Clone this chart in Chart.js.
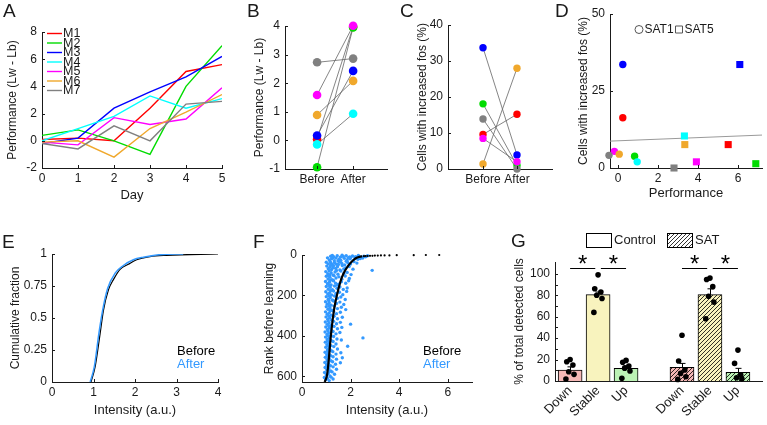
<!DOCTYPE html>
<html>
<head>
<meta charset="utf-8">
<title>Learning figure</title>
<script src="https://cdn.jsdelivr.net/npm/chart.js@4.4.1/dist/chart.umd.min.js"></script>
<style>
  html, body { margin: 0; padding: 0; background: #fff; }
  #fig { position: relative; width: 767px; height: 425px; overflow: hidden; }
  #fig canvas { position: absolute; left: 0; top: 0; }
</style>
</head>
<body>
<div id="fig">
  <canvas id="chartA" width="767" height="425"></canvas>
  <canvas id="chartB" width="767" height="425"></canvas>
  <canvas id="chartC" width="767" height="425"></canvas>
  <canvas id="chartD" width="767" height="425"></canvas>
  <canvas id="chartE" width="767" height="425"></canvas>
  <canvas id="chartF" width="767" height="425"></canvas>
  <canvas id="chartG" width="767" height="425"></canvas>
</div>
<script>
// ---------- data ----------
const mice = ['M1', 'M2', 'M3', 'M4', 'M5', 'M6', 'M7'];
const mouseColors = ['#ff0000', '#00dc00', '#0000ff', '#00ffff', '#ff00ff', '#f0a82c', '#808080'];

// A: performance per day
const days = [0, 1, 2, 3, 4, 5];
const perfM1 = [0.1, 0.2, 0.0, 2.4, 5.1, 5.6];
const perfM2 = [0.4, 0.8, 0.0, -1.0, 4.0, 7.0];
const perfM3 = [-0.2, 0.2, 2.4, 3.6, 4.7, 6.2];
const perfM4 = [0.0, 0.9, 1.8, 3.3, 2.4, 3.1];
const perfM5 = [-0.1, -0.3, 1.7, 1.2, 1.6, 3.9];
const perfM6 = [-0.1, 0.0, -1.2, 0.9, 2.1, 3.4];
const perfM7 = [-0.2, -0.6, 1.1, 0.0, 2.7, 2.9];
const perfByMouse = [perfM1, perfM2, perfM3, perfM4, perfM5, perfM6, perfM7];
const dayTicks = [0, 1, 2, 3, 4, 5];
const perfTicksA = [-2, 0, 2, 4, 6, 8];

// B: performance before / after
const phases = ['Before', 'After'];
const perfBefore = [0.04, -0.94, 0.17, -0.14, 1.59, 0.89, 2.73];
const perfAfter = [3.97, 3.95, 2.43, 0.93, 4.01, 2.08, 2.86];
const perfTicksB = [-1, 0, 1, 2, 3, 4];

// C: cells with increased fos (%)
const fosBefore = [9.6, 18.1, 33.7, null, 8.5, 1.4, 13.9];
const fosAfter = [15.2, 1.0, 3.9, null, 2.0, 28.0, 0.0];
const fosTicksC = [0, 10, 20, 30, 40];

// D: fos vs performance
const sat1Perf = [0.24, 0.83, 0.24, 0.96, -0.18, 0.06, -0.45];
const sat1Fos = [16.3, 3.8, 33.6, 2.0, 5.4, 4.5, 4.1];
const sat5Perf = [5.51, 6.89, 6.09, 3.32, 3.92, 3.34, 2.8];
const sat5Fos = [7.6, 1.4, 33.6, 10.4, 2.0, 7.6, 0.0];
const perfTicksD = [0, 2, 4, 6];
const fosTicksD = [0, 25, 50];

// E: cumulative fraction of intensity
const seriesNames = ['Before', 'After'];
const seriesColors = ['#000000', '#3399ff'];
const cumBefore = [[0.94, 0], [1.04, 0.12], [1.16, 0.38], [1.24, 0.56], [1.36, 0.72], [1.48, 0.8],
  [1.64, 0.88], [1.84, 0.92], [2.04, 0.955], [2.36, 0.98], [2.76, 0.99], [4.0, 1.0]];
const cumAfter = [[0.92, 0], [1.02, 0.12], [1.13, 0.38], [1.22, 0.56], [1.34, 0.73], [1.52, 0.85],
  [1.72, 0.91], [1.96, 0.955], [2.2, 0.975], [2.6, 0.995], [3.16, 1.0]];
const intTicksE = [0, 1, 2, 3, 4];
const cumTicks = [0, 0.25, 0.5, 0.75, 1];

// F: intensity after learning at each rank before learning  [intensity, rank]
const rankAfter = [
  [1.18,6],[1.3,9],[1.45,4],[1.58,11],[1.7,7],[1.82,3],[1.96,10],[2.08,5],[2.2,8],[2.32,2],[2.42,11],[2.55,6],[2.62,9],[2.7,4],[1.25,2],[1.65,1],[2.0,12],[2.25,12],
  [1.05,14],[1.12,24],[1.22,18],[1.33,28],[1.4,15],[1.52,22],[1.6,27],[1.74,16],[1.86,25],[1.98,19],[2.1,29],[2.18,14],[2.3,21],[2.4,17],[1.28,13],[1.9,13],[1.48,30],[2.5,15],
  [1.0,36],[1.08,44],[1.16,32],[1.24,48],[1.34,38],[1.42,46],[1.55,34],[1.64,42],[1.76,49],[1.88,37],[2.0,45],[2.14,33],[2.26,40],[1.2,41],[1.5,47],[1.82,31],
  [1.02,55],[1.08,68],[1.14,61],[1.22,72],[1.3,53],[1.38,66],[1.46,58],[1.56,74],[1.66,52],[1.8,64],[1.94,57],[2.1,70],[1.18,52],[1.27,63],[1.72,69],
  [0.98,82],[1.06,93],[1.12,78],[1.2,88],[1.28,99],[1.36,84],[1.48,95],[1.6,79],[1.72,91],[1.86,86],[2.02,97],[2.89,76],[1.15,98],[1.42,77],
  [1.0,105],[1.07,119],[1.15,110],[1.23,122],[1.32,102],[1.4,114],[1.52,108],[1.64,120],[1.78,104],[1.95,116],[1.1,101],[1.28,124],
  [0.97,131],[1.05,142],[1.13,135],[1.2,148],[1.3,128],[1.38,139],[1.5,145],[1.62,132],[1.8,140],[1.92,127],[1.16,126],[1.44,149],
  [1.0,156],[1.08,169],[1.16,160],[1.25,172],[1.34,153],[1.44,165],[1.56,158],[1.7,170],[1.86,163],[1.12,151],
  [0.98,182],[1.06,193],[1.14,186],[1.22,198],[1.3,178],[1.4,190],[1.54,184],[1.68,196],[1.84,180],[1.18,176],
  [1.0,206],[1.08,219],[1.16,210],[1.24,222],[1.34,203],[1.46,214],[1.6,208],[1.78,220],[1.12,201],[1.28,225],
  [0.97,231],[1.04,243],[1.12,236],[1.2,248],[1.3,228],[1.42,240],[1.56,233],[1.72,245],[1.1,226],
  [1.0,256],[1.07,268],[1.15,261],[1.23,273],[1.33,253],[1.46,265],[1.62,258],[1.8,270],[1.12,251],
  [0.97,281],[1.04,293],[1.12,286],[1.2,298],[1.3,278],[1.42,290],[1.58,283],[1.16,276],
  [0.99,306],[1.06,318],[1.14,311],[1.22,323],[1.32,303],[1.46,315],[1.66,308],[1.1,301],
  [0.96,331],[1.04,343],[1.12,336],[1.2,348],[1.3,328],[1.42,340],[1.58,333],[2.0,342],[1.08,326],
  [0.98,356],[1.05,368],[1.13,361],[1.21,373],[1.32,353],[1.46,365],[1.64,358],[1.1,351],
  [0.95,381],[1.03,393],[1.11,386],[1.19,398],[1.28,378],[1.4,390],[1.56,383],[1.07,376],
  [0.97,406],[1.04,418],[1.12,411],[1.2,423],[1.3,403],[1.44,415],[1.62,420],[2.51,410],[1.08,401],
  [0.96,431],[1.03,443],[1.11,436],[1.19,448],[1.28,428],[1.4,440],[1.88,451],[1.06,426],
  [0.98,456],[1.05,468],[1.13,461],[1.21,473],[1.31,453],[1.46,465],[1.1,451],
  [0.95,481],[1.02,493],[1.1,486],[1.18,498],[1.27,478],[1.4,490],[1.6,483],[1.06,476],
  [0.96,506],[1.03,518],[1.11,511],[1.19,523],[1.28,503],[1.42,515],[1.66,508],[1.07,501],
  [0.94,531],[1.01,543],[1.09,536],[1.17,548],[1.26,528],[1.38,540],[1.58,533],[1.05,526],
  [0.95,556],[1.02,568],[1.1,561],[1.18,573],[1.28,553],[1.42,565],[1.06,551],
  [0.93,581],[1.0,593],[1.08,586],[1.15,598],[1.24,578],[1.34,590],[1.12,576],
  [0.92,606],[0.98,616],[1.05,611],[1.12,621],[1.2,604],[1.28,613]
];
const rankBeforeCurve = [[2.48,7],[2.4,8],[2.25,14],[2.12,25],[1.92,50],[1.71,91],[1.58,132],[1.44,198],
  [1.32,270],[1.19,397],[1.1,521],[1.03,595],[0.98,615],[0.93,628]];
const rankBeforeTop = [[2.55,6],[2.62,5],[2.7,5],[2.8,4],[2.9,4],[3.0,3],[3.12,3],[3.25,2],[3.4,2],
  [3.6,2],[3.9,1],[4.6,1],[5.1,0],[5.65,0]];
const intTicksF = [0, 2, 4, 6];
const rankTicks = [0, 200, 400, 600];

// G: % of total detected cells
const gGroups = ['Control', 'SAT'];
const gCats = ['Down', 'Stable', 'Up'];
const gCatColors = ['#f5b8b6', '#f8f3be', '#bcf2b5'];
const gCtrlMean = [10.2, 80.5, 11.8];
const gSatMean = [12.7, 80.5, 8.0];
const gCtrlSem = [3.0, 2.5, 2.5];
const gSatSem = [3.7, 5.5, 3.8];
const gCtrlDots = [[20.1, 17.9, 14.9, 8.6, 6.2, 1.9], [99, 86, 83, 80, 77, 64], [19.2, 17.4, 13.9, 12, 9.3, 2.5]];
const gSatDots = [[42.7, 18.6, 10.2, 7.1, 4, 1.5], [96, 94.7, 88, 79, 73.6, 58], [28.8, 16.4, 5.6, 3.1, 2]];
const pctTicks = [0, 10, 20, 30, 40, 50, 60, 70, 80, 90, 100];

// ---------- helpers ----------
const FONT = "'Liberation Sans', Arial, Helvetica, sans-serif";
const INK = '#1a1a1a';
const W = 767, H = 425;
const Y_TITLE = 12, X_TITLE = 13, TICK = 12;

// plot box in page pixels + centre of the axis titles
function frame(L, T, R, B, yTitleX, xTitleY) {
  return { L, T, R, B, yw: L - yTitleX + 0.6 * Y_TITLE, xh: xTitleY - B + 0.6 * X_TITLE };
}

function axis(pos, min, max, values, title, f, more = {}) {
  const horiz = pos === 'bottom';
  const a = {
    type: 'linear', position: pos, min: min, max: max, offset: false,
    afterBuildTicks: s => { s.ticks = values.map(v => ({ value: v })); },
    afterFit: s => { if (horiz) s.height = f.xh; else s.width = f.yw; },
    grid: { display: false, drawTicks: false, offset: false },
    border: { color: INK, width: 1 },
    ticks: { color: INK, font: { family: FONT, size: TICK }, padding: horiz ? 3 : 5,
             maxRotation: 0, minRotation: 0, autoSkip: false, callback: v => String(v) },
    title: { display: !!title, text: title, color: INK, padding: 0,
             font: { family: FONT, size: horiz ? X_TITLE : Y_TITLE } }
  };
  const { ticks, ...rest } = more;
  Object.assign(a.ticks, ticks || {});
  return Object.assign(a, rest);
}

function options(f, scales, plugins) {
  return {
    responsive: false, animation: false, events: [],
    layout: { padding: { left: f.L - f.yw, top: f.T, right: W - f.R, bottom: H - f.B - f.xh } },
    scales: scales,
    plugins: Object.assign({ legend: { display: false }, tooltip: { enabled: false } }, plugins)
  };
}

const letter = (t, x, y) => ({ text: t, x: x, y: y, size: 19 });

// small inward tick marks (MATLAB style)
const inTicks = {
  id: 'inTicks',
  afterDatasetsDraw(chart, args, o) {
    const { ctx, chartArea: a } = chart;
    ctx.save();
    ctx.strokeStyle = INK; ctx.lineWidth = 1;
    ctx.beginPath();
    if (o.x !== false) chart.scales.x.ticks.forEach(t => {
      const p = Math.round(chart.scales.x.getPixelForValue(t.value)) + 0.5;
      ctx.moveTo(p, a.bottom); ctx.lineTo(p, a.bottom - 3);
    });
    if (o.y !== false) chart.scales.y.ticks.forEach(t => {
      const p = Math.round(chart.scales.y.getPixelForValue(t.value)) + 0.5;
      ctx.moveTo(a.left, p); ctx.lineTo(a.left + 3, p);
    });
    ctx.stroke();
    ctx.restore();
  }
};

// free text (panel letters)
const notes = {
  id: 'notes',
  afterDraw(chart, args, o) {
    const ctx = chart.ctx;
    (o.items || []).forEach(n => {
      ctx.save();
      ctx.font = (n.bold ? 'bold ' : '') + (n.size || 13) + 'px ' + FONT;
      ctx.fillStyle = n.color || INK;
      ctx.textAlign = n.align || 'left';
      ctx.textBaseline = 'middle';
      ctx.fillText(n.text, n.x, n.y);
      ctx.restore();
    });
  }
};

// line + name legend for panel A
const lineLegend = {
  id: 'lineLegend',
  afterDraw(chart, args, o) {
    const ctx = chart.ctx;
    ctx.save();
    ctx.font = o.size + 'px ' + FONT;
    ctx.textBaseline = 'middle';
    chart.data.datasets.forEach((d, i) => {
      const y = o.y + i * o.step;
      ctx.strokeStyle = d.borderColor; ctx.lineWidth = 1.4;
      ctx.beginPath(); ctx.moveTo(o.x, y); ctx.lineTo(o.x + o.len, y); ctx.stroke();
      ctx.fillStyle = INK;
      ctx.fillText(d.label, o.x + o.len + 1, y + 0.5);
    });
    ctx.restore();
  }
};

// coloured words legend (Before / After)
const wordLegend = {
  id: 'wordLegend',
  afterDraw(chart, args, o) {
    const ctx = chart.ctx;
    ctx.save();
    ctx.font = o.size + 'px ' + FONT;
    ctx.textBaseline = 'middle';
    seriesNames.forEach((s, i) => {
      ctx.fillStyle = seriesColors[i];
      ctx.fillText(s, o.x, o.y + i * o.step);
    });
    ctx.restore();
  }
};

// hollow marker legend for panel D
const markerLegend = {
  id: 'markerLegend',
  afterDraw(chart, args, o) {
    const ctx = chart.ctx;
    ctx.save();
    ctx.font = o.size + 'px ' + FONT;
    ctx.textBaseline = 'middle';
    ctx.strokeStyle = '#555'; ctx.lineWidth = 1; ctx.fillStyle = INK;
    let x = o.x;
    chart.data.datasets.filter(d => d.legendMark).forEach(d => {
      ctx.beginPath();
      if (d.pointStyle === 'rect') ctx.rect(x - 3.5, o.y - 3.5, 7, 7);
      else ctx.arc(x, o.y, 4, 0, Math.PI * 2);
      ctx.stroke();
      ctx.fillText(d.label, x + 5.5, o.y + 0.5);
      x += o.gap;
    });
    ctx.restore();
  }
};

function hatch(color) {
  const c = document.createElement('canvas');
  c.width = 4; c.height = 4;
  const g = c.getContext('2d');
  g.fillStyle = color; g.fillRect(0, 0, 4, 4);
  g.strokeStyle = '#000'; g.lineWidth = 0.8;
  g.beginPath();
  g.moveTo(0, 4); g.lineTo(4, 0);
  g.moveTo(-1, 1); g.lineTo(1, -1);
  g.moveTo(3, 5); g.lineTo(5, 3);
  g.stroke();
  return g.createPattern(c, 'repeat');
}

// error bars, significance bars and box legend for panel G
const gMarks = {
  id: 'gMarks',
  afterDatasetDraw(chart, args) {
    const ds = chart.data.datasets[args.index];
    if (!ds.sem) return;
    const { ctx, scales: { x, y } } = chart;
    ctx.save();
    ctx.strokeStyle = '#000'; ctx.lineWidth = 1;
    ds.data.forEach((p, k) => {
      const px = Math.round(x.getPixelForValue(p.x)) + 0.5;
      const y1 = y.getPixelForValue(p.y + ds.sem[k]);
      ctx.beginPath();
      ctx.moveTo(px, y.getPixelForValue(p.y)); ctx.lineTo(px, y1);
      ctx.moveTo(px - 3, y1); ctx.lineTo(px + 3, y1);
      ctx.stroke();
    });
    ctx.restore();
  },
  afterDraw(chart, args, o) {
    const { ctx, scales: { x, y } } = chart;
    ctx.save();
    ctx.strokeStyle = '#000'; ctx.lineWidth = 1; ctx.fillStyle = '#000';
    const ly = Math.round(y.getPixelForValue(o.sigLevel)) + 0.5;
    ctx.font = '24px ' + FONT;
    ctx.textAlign = 'center'; ctx.textBaseline = 'alphabetic';
    gGroups.forEach((g, gi) => {
      const base = gi * 4;
      [[base, base + 0.9], [base + 1.1, base + 2]].forEach(([a, b]) => {
        const xa = x.getPixelForValue(a), xb = x.getPixelForValue(b);
        ctx.beginPath(); ctx.moveTo(xa, ly); ctx.lineTo(xb, ly); ctx.stroke();
        ctx.fillText('*', (xa + xb) / 2, ly + 3);
      });
    });
    // legend boxes
    ctx.font = '13px ' + FONT;
    ctx.textAlign = 'left'; ctx.textBaseline = 'middle';
    o.boxes.forEach((bx, i) => {
      ctx.fillStyle = i ? hatch('#ffffff') : '#ffffff';
      ctx.fillRect(bx.x, o.y, 25, 14);
      ctx.strokeRect(bx.x + 0.5, o.y + 0.5, 25, 14);
      ctx.fillStyle = INK;
      ctx.fillText(gGroups[i], bx.x + 28, o.y + 7.5);
    });
    ctx.restore();
  }
};

// ---------- A ----------
const fA = frame(42, 32, 222, 168, 13, 195);
new Chart(document.getElementById('chartA'), {
  type: 'line',
  data: {
    datasets: mice.map((m, i) => ({
      label: m, order: mice.length - i,
      data: days.map((d, j) => ({ x: d, y: perfByMouse[i][j] })),
      borderColor: mouseColors[i], borderWidth: 1.4, pointRadius: 0, tension: 0
    }))
  },
  options: options(fA, {
    x: axis('bottom', 0, 5, dayTicks, 'Day', fA),
    y: axis('left', -2, 8, perfTicksA, 'Performance (Lw - Lb)', fA)
  }, {
    lineLegend: { x: 47, y: 33.5, step: 9.5, len: 15, size: 12.5 },
    notes: { items: [letter('A', 3, 12)] }
  }),
  plugins: [inTicks, notes, lineLegend]
});

// ---------- B and C (paired points) ----------
function pairedChart(id, f, xMin, xMax, before, after, yMin, yMax, yTicks, title, radius, mark) {
  const links = [], pts = [], cols = [];
  mice.forEach((m, i) => {
    if (before[i] === null) return;
    links.push({ x: 0, y: before[i] }, { x: 1, y: after[i] }, { x: 1, y: null });
    pts.push({ x: 0, y: before[i] }, { x: 1, y: after[i] });
    cols.push(mouseColors[i], mouseColors[i]);
  });
  new Chart(document.getElementById(id), {
    type: 'scatter',
    data: {
      datasets: [
        { data: links, showLine: true, spanGaps: false, borderColor: '#666', borderWidth: 0.8,
          pointRadius: 0, order: 2, clip: false },
        { data: pts, pointRadius: radius, pointBackgroundColor: cols, pointBorderWidth: 0,
          order: 1, clip: false }
      ]
    },
    options: options(f, {
      x: axis('bottom', xMin, xMax, [0, 1], '', f, { ticks: { callback: v => phases[v] } }),
      y: axis('left', yMin, yMax, yTicks, title, f)
    }, { notes: { items: [mark] } }),
    plugins: [inTicks, notes]
  });
}

const fB = frame(285, 26, 387, 169, 260, 181);
pairedChart('chartB', fB, -0.89, 1.94, perfBefore, perfAfter, -1, 4, perfTicksB,
  'Performance (Lw - Lb)', 4.3, letter('B', 247, 12));

const fC = frame(448, 25, 552, 169, 423, 181);
pairedChart('chartC', fC, -1.03, 2.03, fosBefore, fosAfter, 0, 40, fosTicksC,
  'Cells with increased fos (%)', 3.7, letter('C', 400, 12));

// ---------- D ----------
const fD = frame(610, 14, 767, 168, 584, 193);
const dRange = [-0.4, 7.2];
const allPerf = sat1Perf.concat(sat5Perf), allFos = sat1Fos.concat(sat5Fos);
const mx = allPerf.reduce((s, v) => s + v, 0) / allPerf.length;
const my = allFos.reduce((s, v) => s + v, 0) / allFos.length;
let sxy = 0, sxx = 0;
allPerf.forEach((v, i) => { sxy += (v - mx) * (allFos[i] - my); sxx += (v - mx) * (v - mx); });
const slope = sxy / sxx;
new Chart(document.getElementById('chartD'), {
  type: 'scatter',
  data: {
    datasets: [
      { label: 'fit', data: dRange.map(v => ({ x: v, y: my + slope * (v - mx) })), showLine: true,
        borderColor: '#9a9a9a', borderWidth: 1, pointRadius: 0, order: 3 },
      { label: 'SAT1', legendMark: true, pointStyle: 'circle', data: sat1Perf.map((v, i) => ({ x: v, y: sat1Fos[i] })),
        pointRadius: 3.7, pointBackgroundColor: mouseColors, pointBorderWidth: 0, order: 2, clip: false },
      { label: 'SAT5', legendMark: true, pointStyle: 'rect', data: sat5Perf.map((v, i) => ({ x: v, y: sat5Fos[i] })),
        pointRadius: 5, pointBackgroundColor: mouseColors, pointBorderWidth: 0, order: 1, clip: false }
    ]
  },
  options: options(fD, {
    x: axis('bottom', dRange[0], dRange[1], perfTicksD, 'Performance', fD),
    y: axis('left', 0, 50, fosTicksD, 'Cells with increased fos (%)', fD)
  }, {
    markerLegend: { x: 639, y: 29.5, gap: 40, size: 12 },
    notes: { items: [letter('D', 555, 12)] }
  }),
  plugins: [inTicks, notes, markerLegend]
});

// ---------- E ----------
const fE = frame(52, 254, 218, 382, 16, 410);
new Chart(document.getElementById('chartE'), {
  type: 'line',
  data: {
    datasets: [cumBefore, cumAfter].map((c, i) => ({
      label: seriesNames[i], data: c.map(p => ({ x: p[0], y: p[1] })),
      borderColor: seriesColors[i], borderWidth: i ? 1.5 : 1.2, pointRadius: 0,
      cubicInterpolationMode: 'monotone', order: 2 - i
    }))
  },
  options: options(fE, {
    x: axis('bottom', 0, 4, intTicksE, 'Intensity (a.u.)', fE),
    y: axis('left', 0, 1, cumTicks, 'Cumulative fraction', fE)
  }, {
    wordLegend: { x: 177, y: 351, step: 13, size: 13 },
    notes: { items: [letter('E', 2, 243)] }
  }),
  plugins: [inTicks, notes, wordLegend]
});

// ---------- F ----------
const fF = frame(302, 255, 472, 382, 270, 410);
new Chart(document.getElementById('chartF'), {
  type: 'scatter',
  data: {
    datasets: [
      { label: 'After', data: rankAfter.map(p => ({ x: p[0], y: p[1] })), pointRadius: 1.7,
        pointBackgroundColor: seriesColors[1], pointBorderWidth: 0, order: 3, clip: false },
      { label: 'Before', data: rankBeforeCurve.map(p => ({ x: p[0], y: p[1] })), showLine: true,
        borderColor: seriesColors[0], borderWidth: 2.2, pointRadius: 0, tension: 0.3, order: 1, clip: false },
      { label: 'Before top', data: rankBeforeTop.map(p => ({ x: p[0], y: p[1] })), pointRadius: 1.1,
        pointBackgroundColor: seriesColors[0], pointBorderWidth: 0, order: 2, clip: false }
    ]
  },
  options: options(fF, {
    x: axis('bottom', 0, 7, intTicksF, 'Intensity (a.u.)', fF),
    y: axis('left', 0, 628, rankTicks, 'Rank before learning', fF, { reverse: true })
  }, {
    wordLegend: { x: 423, y: 351, step: 13, size: 13 },
    notes: { items: [letter('F', 253, 243)] }
  }),
  plugins: [inTicks, notes, wordLegend]
});

// ---------- G ----------
const fG = frame(555, 262, 762, 381, 520, 417);
const jitter = [0, -0.12, 0.1, -0.05, 0.14, -0.15, 0.06];
const gDots = [];
[gCtrlDots, gSatDots].forEach((grp, g) => grp.forEach((vals, k) => vals.forEach((v, j) => {
  gDots.push({ x: g * 4 + k + jitter[j % jitter.length], y: v });
})));
const gTickNames = {};
gGroups.forEach((g, gi) => gCats.forEach((c, k) => { gTickNames[gi * 4 + k] = c; }));
new Chart(document.getElementById('chartG'), {
  type: 'bar',
  data: {
    datasets: [
      { type: 'scatter', data: gDots, pointRadius: 2.8, pointBackgroundColor: '#000',
        pointBorderWidth: 0, order: 0, clip: false },
      { label: 'Control', data: gCtrlMean.map((v, k) => ({ x: k, y: v })), sem: gCtrlSem,
        backgroundColor: gCatColors, borderColor: '#000', borderWidth: 1, barThickness: 24,
        grouped: false, order: 1 },
      { label: 'SAT', data: gSatMean.map((v, k) => ({ x: 4 + k, y: v })), sem: gSatSem,
        backgroundColor: gCatColors.map(hatch), borderColor: '#000', borderWidth: 1, barThickness: 24,
        grouped: false, order: 1 }
    ]
  },
  options: options(fG, {
    x: axis('bottom', -0.54, 6.86, Object.keys(gTickNames).map(Number), '', fG, {
      ticks: { callback: v => gTickNames[v], minRotation: 45, maxRotation: 45, font: { family: FONT, size: 13 }, padding: 2 }
    }),
    y: axis('left', 0, 111, pctTicks, '% of total detected cells', fG, {
      ticks: { callback: v => (v % 20 === 0 ? String(v) : '') }
    })
  }, {
    inTicks: { x: false },
    gMarks: { sigLevel: 105, y: 233, boxes: [{ x: 586 }, { x: 667 }] },
    notes: { items: [letter('G', 511, 242)] }
  }),
  plugins: [inTicks, notes, gMarks]
});
</script>
</body>
</html>
